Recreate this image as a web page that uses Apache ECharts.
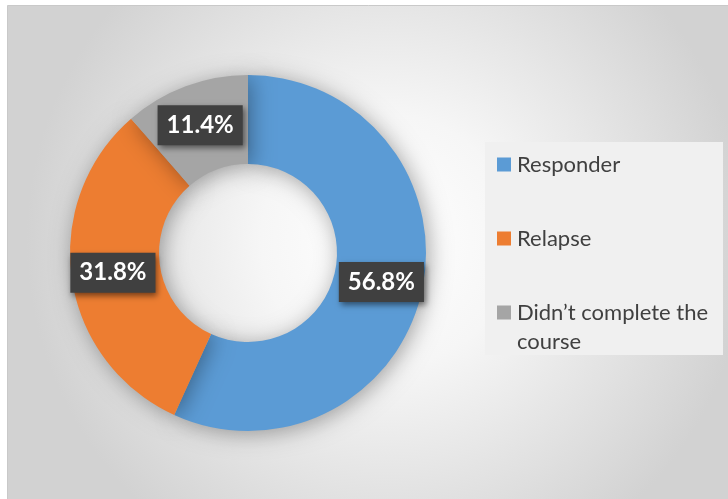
<!DOCTYPE html>
<html>
<head>
<meta charset="utf-8">
<script src="https://cdn.jsdelivr.net/npm/echarts@6/dist/echarts.min.js"></script>
<style>
html,body{margin:0;padding:0;background:#fff;}
#chart{width:728px;height:499px;}
</style>
</head>
<body>
<div id="chart"></div>
<script>
const categories = ['Responder', 'Relapse', 'Didn’t complete the course'];
const values = [56.8, 31.8, 11.4];
const colors = ['#5b9bd5', '#ed7d31', '#a5a5a5'];

const chart = echarts.init(document.getElementById('chart'), null, {renderer: 'canvas'});

const rich = {
  g: {width: 6},
  sp: {width: 14},
  t: {fontSize: 22, color: '#404040', lineHeight: 29, fontFamily: 'Lato'}
};
colors.forEach((c, i) => {
  rich['s' + i] = {width: 14, height: 14, backgroundColor: c};
});

chart.setOption({
  animation: false,
  graphic: [
    {
      type: 'rect', z: -10, silent: true,
      shape: {x: 7.5, y: 5.5, width: 730, height: 500},
      style: {
        fill: {
          type: 'radial', x: 0.52, y: 0.47, r: 0.72,
          colorStops: [{offset: 0, color: '#ffffff'}, {offset: 0.35, color: '#f6f6f6'}, {offset: 1, color: '#d2d2d2'}]
        },
        stroke: '#c9c9c9', lineWidth: 1
      }
    },
    {
      type: 'rect', z: -5, silent: true,
      shape: {x: 485, y: 142, width: 238, height: 213},
      style: {fill: '#f0f0f0'}
    }
  ],
  legend: {
    orient: 'vertical',
    left: 492, top: 150,
    padding: 0,
    itemGap: 45,
    itemWidth: 0, itemHeight: 0,
    icon: 'none',
    selectedMode: false,
    data: categories,
    formatter: function (name) {
      const i = categories.indexOf(name);
      if (i === 2) {
        return '{s2|}{g|}{t|Didn’t complete the}\n{sp|}{g|}{t|course}';
      }
      return '{s' + i + '|}{g|}{t|' + name + '}';
    },
    textStyle: {rich: rich, fontSize: 22, lineHeight: 29}
  },
  series: [{
    type: 'pie',
    center: [248, 253],
    radius: [89, 178],
    startAngle: 90,
    clockwise: true,
    avoidLabelOverlap: false,
    emphasis: {disabled: true},
    labelLine: {show: false},
    itemStyle: {
      shadowBlur: 22, shadowColor: 'rgba(0,0,0,0.35)', shadowOffsetX: 3, shadowOffsetY: 3
    },
    label: {
      show: true,
      position: 'inside',
      formatter: p => p.value.toFixed(1) + '%',
      color: '#ffffff',
      fontFamily: 'Lato',
      fontWeight: 'bold',
      fontSize: 24,
      lineHeight: 24,
      backgroundColor: '#404040',
      padding: [8, 9, 8, 9],
      shadowBlur: 6, shadowColor: 'rgba(0,0,0,0.5)', shadowOffsetX: 2, shadowOffsetY: 3
    },
    data: categories.map((n, i) => ({name: n, value: values[i], itemStyle: {color: colors[i]}}))
  }]
});
</script>
</body>
</html>
